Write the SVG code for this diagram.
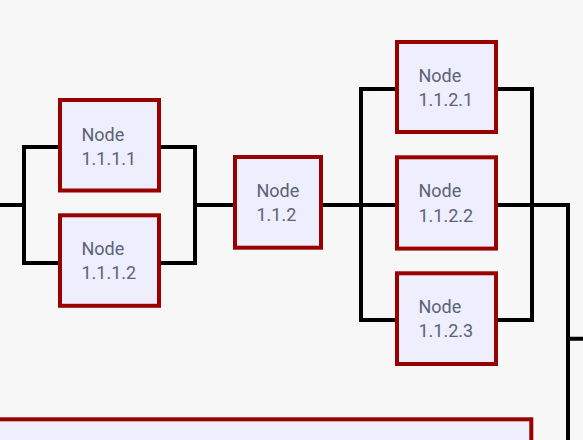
<svg xmlns="http://www.w3.org/2000/svg" width="583" height="440" viewBox="0 0 583 440">
<style>
.bg{fill:#f7f7f7}
.node rect{fill:#eeeefc;stroke:#990000;stroke-width:4}
.node text{font-family:Roboto,"Liberation Sans",sans-serif;font-size:18px;fill:#5a6377}
.edges path{fill:none;stroke:#000;stroke-width:4;stroke-linecap:square;stroke-linejoin:miter}
</style>
<rect class="bg" x="0" y="0" width="583" height="440"/>
<g id="connectors" class="edges">
<path d="M-5,205 H24 M24,147 V263 M24,147 H60 M24,263 H60"/>
<path d="M159,147 H195 M159,263 H195 M195,147 V263 M195,205 H235"/>
<path d="M321,205 H397 M361,89 V320 M361,89 H397 M361,320 H397"/>
<path d="M496,89 H532 M496,205 H532 M496,320 H532 M532,89 V320 M532,205 H568 M568,205 V445 M568,338.7 H588"/>
</g>
<g id="node-1.1.1.1" class="node">
<rect x="60" y="100" width="99" height="90.5"/>
<text x="81.5" y="140.7">Node</text>
<text x="81.5" y="165">1.1.1.1</text>
</g>
<g id="node-1.1.1.2" class="node">
<rect x="60" y="215.3" width="99" height="90.5"/>
<text x="81.5" y="255">Node</text>
<text x="81.5" y="279.3">1.1.1.2</text>
</g>
<g id="node-1.1.2" class="node">
<rect x="235" y="157" width="86" height="90.7"/>
<text x="256.5" y="196.7">Node</text>
<text x="256.5" y="221">1.1.2</text>
</g>
<g id="node-1.1.2.1" class="node">
<rect x="397" y="42" width="99" height="90"/>
<text x="418.5" y="81.7">Node</text>
<text x="418.5" y="106">1.1.2.1</text>
</g>
<g id="node-1.1.2.2" class="node">
<rect x="397" y="157.3" width="99" height="91.3"/>
<text x="418.5" y="197.3">Node</text>
<text x="418.5" y="221.6">1.1.2.2</text>
</g>
<g id="node-1.1.2.3" class="node">
<rect x="397" y="273.3" width="99" height="90.7"/>
<text x="418.5" y="312.7">Node</text>
<text x="418.5" y="337">1.1.2.3</text>
</g>
<g id="node-bottom" class="node">
<rect x="-10" y="419.3" width="541.3" height="100"/>
</g>
</svg>
